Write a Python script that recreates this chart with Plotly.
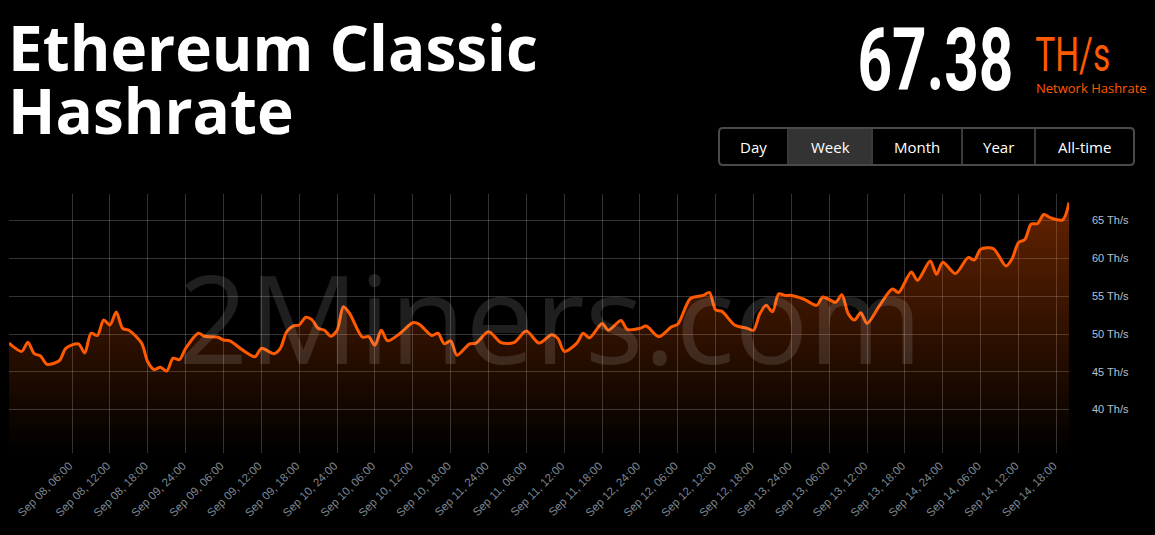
import plotly.graph_objects as go
import pandas as pd

# ---------------- data ----------------
title_lines = ["Ethereum Classic", "Hashrate"]
current_value = "67.38"
unit_label = "TH/s"
sub_label = "Network Hashrate"
range_buttons = ["Day", "Week", "Month", "Year", "All-time"]
active_button = "Week"
watermark = "2Miners.com"

start_time = "2022-09-07 20:00"
end_time = "2022-09-14 20:00"
hours = [0, 2, 3, 4, 5, 6, 8, 9, 11, 12, 13, 14, 15, 16, 17, 18, 19, 21, 22, 23,
         24, 25, 26, 27, 28, 30, 31, 33, 34, 35, 37, 39, 40, 42, 43, 44, 45, 46, 47, 48,
         49, 50, 51, 52, 53, 54, 56, 57, 58, 59, 60, 62, 64, 65, 67, 68, 69, 70, 71, 73,
         74, 76, 78, 80, 82, 84, 86, 87, 88, 90, 91, 92, 94, 95, 97, 98, 100, 101, 103, 105,
         106, 108, 110, 111, 112, 113, 115, 117, 118, 119, 120, 121, 122, 123, 124, 126, 128, 129, 131, 132,
         133, 134, 135, 136, 138, 140, 141, 143, 144, 146, 147, 148, 150, 152, 153, 154, 156, 158, 159, 160,
         161, 162, 163, 164, 165, 167, 168]
hashrate = [48.8, 47.7, 48.9, 47.4, 47.1, 46.0, 46.5, 48.1, 48.7, 47.5, 50.1, 49.8, 51.85, 51.2, 52.9, 50.75, 50.5, 48.8, 46.3, 45.3,
            45.6, 45.1, 46.8, 46.6, 48.1, 50.1, 49.7, 49.6, 49.2, 49.1, 47.9, 47.0, 48.1, 47.4, 48.1, 50.3, 51.05, 51.2, 52.2, 51.9,
            50.75, 50.5, 49.7, 50.5, 53.6, 52.7, 49.6, 49.65, 48.5, 50.5, 49.1, 50.1, 51.5, 51.3, 49.8, 50.1, 48.7, 49.1, 47.2, 48.7,
            48.8, 50.3, 48.85, 48.85, 50.4, 48.8, 49.9, 49.4, 47.7, 48.8, 50.1, 49.5, 51.4, 50.5, 51.8, 50.6, 50.75, 51.05, 49.65, 50.95,
            51.3, 54.7, 55.1, 55.5, 53.2, 53.0, 51.2, 50.75, 50.5, 52.7, 53.8, 52.95, 55.3, 55.1, 55.1, 54.6, 53.8, 54.9, 54.2, 55.2,
            52.7, 51.85, 52.8, 51.4, 53.8, 55.95, 55.5, 58.2, 57.1, 59.65, 57.9, 59.5, 58.0, 60.1, 59.8, 61.2, 61.3, 59.0, 60.0, 62.1,
            62.5, 64.55, 64.6, 65.8, 65.4, 65.1, 67.38]

first_tick = "2022-09-08 06:00"
tick_labels = ["Sep 08, 06:00", "Sep 08, 12:00", "Sep 08, 18:00",
               "Sep 09, 24:00", "Sep 09, 06:00", "Sep 09, 12:00", "Sep 09, 18:00",
               "Sep 10, 24:00", "Sep 10, 06:00", "Sep 10, 12:00", "Sep 10, 18:00",
               "Sep 11, 24:00", "Sep 11, 06:00", "Sep 11, 12:00", "Sep 11, 18:00",
               "Sep 12, 24:00", "Sep 12, 06:00", "Sep 12, 12:00", "Sep 12, 18:00",
               "Sep 13, 24:00", "Sep 13, 06:00", "Sep 13, 12:00", "Sep 13, 18:00",
               "Sep 14, 24:00", "Sep 14, 06:00", "Sep 14, 12:00", "Sep 14, 18:00"]
y_ticks = [40, 45, 50, 55, 60, 65]
y_suffix = " Th/s"

# ---------------- layout geometry ----------------
FW, FH = 1155, 535
PL, PR, PT, PB = 9, 1069, 194, 453
PW, PH = PR - PL, PB - PT
ORANGE = "#ff5a00"


def X(px):
    return (px - PL) / PW


def Y(py):
    return (PB - py) / PH


times = pd.Timestamp(start_time) + pd.to_timedelta(hours, unit="h")
tick_times = pd.date_range(first_tick, periods=len(tick_labels), freq="6h")
y_lo, y_hi = 34.26, 68.52

fig = go.Figure()
fig.add_trace(go.Scatter(
    x=times, y=hashrate, mode="lines",
    line=dict(color=ORANGE, width=3, shape="spline", smoothing=0.8),
    fill="tozeroy",
    fillgradient=dict(type="vertical", start=y_lo, stop=y_hi,
                      colorscale=[[0, "rgba(255,90,0,0.0)"], [1, "rgba(255,90,0,0.40)"]]),
    hoverinfo="skip", showlegend=False,
))

grid = "rgba(255,255,255,0.20)"
fig.update_layout(
    width=FW, height=FH,
    paper_bgcolor="#000000", plot_bgcolor="#000000",
    margin=dict(l=PL, r=FW - PR, t=PT, b=FH - PB, pad=0),
    xaxis=dict(type="date", range=[start_time, end_time],
               tickvals=tick_times, ticktext=tick_labels, tickangle=-45,
               showgrid=True, gridcolor=grid, gridwidth=1,
               zeroline=False, showline=False, ticks="",
               ticklabelshift=-3, ticklabelstandoff=3,
               tickfont=dict(family="Liberation Sans, Arial", size=11.5, color="#7d8792")),
    yaxis=dict(side="right", range=[y_lo, y_hi], tickvals=y_ticks,
               ticktext=[f"{v}{y_suffix}" for v in y_ticks],
               showgrid=True, gridcolor=grid, gridwidth=1,
               zeroline=False, showline=False, ticks="", ticklabelstandoff=22,
               tickfont=dict(family="Liberation Sans, Arial", size=11, color="#b3c2d1")),
)

ann = []
# watermark
ann.append(dict(text=watermark, x=X(550), y=Y(316), xref="paper", yref="paper",
                xanchor="center", yanchor="middle", showarrow=False,
                font=dict(family="Open Sans", size=123, color="rgba(255,255,255,0.12)")))
# title
for i, t in enumerate(title_lines):
    ann.append(dict(text=t, x=X(6), y=Y(47 + i * 63), xref="paper", yref="paper",
                    xanchor="left", yanchor="middle", showarrow=False,
                    font=dict(family="Open Sans", size=62, weight=700, color="#ffffff")))
# big number (condensed to reference width in the browser, see post_script)
ann.append(dict(text=current_value, x=X(935), y=Y(60), xref="paper", yref="paper",
                xanchor="center", yanchor="middle", showarrow=False,
                font=dict(family="Roboto", size=87, weight=700, color="#ffffff")))
ann.append(dict(text=unit_label, x=X(1072.5), y=Y(54), xref="paper", yref="paper",
                xanchor="center", yanchor="middle", showarrow=False,
                font=dict(family="Roboto", size=48, color=ORANGE)))
ann.append(dict(text=sub_label, x=X(1034), y=Y(88), xref="paper", yref="paper",
                xanchor="left", yanchor="middle", showarrow=False,
                font=dict(family="Open Sans", size=13, color=ORANGE)))

# range buttons
edges = [719, 788, 872, 962, 1035, 1134]
by0, by1 = 128, 165
shapes = []
for i, name in enumerate(range_buttons):
    x0, x1 = edges[i], edges[i + 1]
    if name == active_button:
        shapes.append(dict(type="rect", xref="paper", yref="paper",
                           x0=X(x0), x1=X(x1), y0=Y(by1 - 1), y1=Y(by0 + 1),
                           fillcolor="#333333", line=dict(width=0), layer="below"))
    if 0 < i:
        shapes.append(dict(type="line", xref="paper", yref="paper",
                           x0=X(x0), x1=X(x0), y0=Y(by1), y1=Y(by0),
                           line=dict(color="#3a3a3a", width=2)))
    ann.append(dict(text=name, x=X((x0 + x1) / 2), y=Y(147), xref="paper", yref="paper",
                    xanchor="center", yanchor="middle", showarrow=False,
                    font=dict(family="Open Sans", size=15, color="#ffffff")))

# rounded outer border
r = 4
xa, xb, ya, yb = edges[0], edges[-1], by0, by1
path = (f"M {X(xa + r)},{Y(ya)} L {X(xb - r)},{Y(ya)} Q {X(xb)},{Y(ya)} {X(xb)},{Y(ya + r)} "
        f"L {X(xb)},{Y(yb - r)} Q {X(xb)},{Y(yb)} {X(xb - r)},{Y(yb)} "
        f"L {X(xa + r)},{Y(yb)} Q {X(xa)},{Y(yb)} {X(xa)},{Y(yb - r)} "
        f"L {X(xa)},{Y(ya + r)} Q {X(xa)},{Y(ya)} {X(xa + r)},{Y(ya)} Z")
shapes.append(dict(type="path", xref="paper", yref="paper", path=path,
                   line=dict(color="#4a4a4a", width=2)))

fig.update_layout(annotations=ann, shapes=shapes)

post_js = """
document.body.style.margin = '0';
document.body.style.overflow = 'hidden';
var fit = {'67.38': 156, 'TH/s': 75};
document.querySelectorAll('text.annotation-text').forEach(function (t) {
  var k = t.textContent;
  if (fit[k]) {
    t.setAttribute('textLength', fit[k]);
    t.setAttribute('lengthAdjust', 'spacingAndGlyphs');
  }
});
"""
fig.write_html("out.html", post_script=post_js,
               config={"displayModeBar": False, "staticPlot": True})
